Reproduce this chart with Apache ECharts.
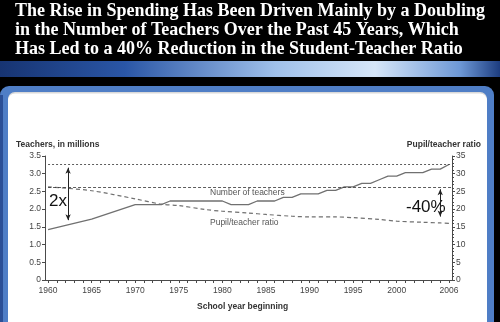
<!DOCTYPE html>
<html>
<head>
<meta charset="utf-8">
<script src="https://cdn.jsdelivr.net/npm/echarts@6/dist/echarts.min.js"></script>
<style>
  html, body { margin: 0; padding: 0; background: #000; }
  #chart { width: 500px; height: 322px; }
</style>
</head>
<body>
<div id="chart"></div>
<script>
// Teachers (millions) by school year
const teacherYears = [1960, 1965, 1970, 1971, 1972, 1973, 1974, 1975, 1976, 1977, 1978, 1979, 1980,
  1981, 1982, 1983, 1984, 1985, 1986, 1987, 1988, 1989, 1990, 1991, 1992, 1993, 1994, 1995,
  1996, 1997, 1998, 1999, 2000, 2001, 2002, 2003, 2004, 2005, 2006];
const teachersMillions = [1.42, 1.72, 2.13, 2.13, 2.13, 2.13, 2.23, 2.23, 2.23, 2.23, 2.23, 2.23, 2.23,
  2.13, 2.13, 2.13, 2.23, 2.23, 2.23, 2.33, 2.33, 2.43, 2.43, 2.43, 2.53, 2.53, 2.63, 2.63,
  2.73, 2.73, 2.83, 2.93, 2.93, 3.03, 3.03, 3.03, 3.13, 3.13, 3.26];

// Pupil/teacher ratio by school year
const ratioYears = [1960, 1965, 1970, 1973, 1975, 1978, 1980, 1983, 1985, 1988, 1990, 1993, 1995, 1998, 2000, 2003, 2005, 2006];
const pupilTeacherRatio = [26.3, 25.2, 22.9, 21.4, 21.0, 19.9, 19.4, 18.9, 18.5, 18.0, 17.8, 17.8, 17.6, 17.1, 16.6, 16.3, 16.1, 16.0];

// Axis labels
const xLabelYears = [1960, 1965, 1970, 1975, 1980, 1985, 1990, 1995, 2000, 2006];
const xTickYears = [];
for (let y = 1960; y <= 2006; y++) xTickYears.push(y);

// Annotation spans (data units)
const doublingArrow = { year: 1962.3, from: 3.17, to: 1.69 };
const reductionArrow = { year: 2005, from: 25.6, to: 17.9 };

const X_MIN = 1959.65, X_MAX = 2006.35;
const axisColor = '#4a4a4a';
const labelFont = 'Liberation Sans';

const chart = echarts.init(document.getElementById('chart'), null, { renderer: 'canvas' });

const bandGradient = new echarts.graphic.LinearGradient(0, 0, 1, 0, [
  { offset: 0, color: '#173472' },
  { offset: 0.25, color: '#2a56a6' },
  { offset: 0.55, color: '#9fc0ea' },
  { offset: 0.75, color: '#d6e6f8' },
  { offset: 0.92, color: '#6d98d6' },
  { offset: 1, color: '#1d3d80' }
]);

const lastTeacher = teachersMillions[teachersMillions.length - 1];
const firstRatio = pupilTeacherRatio[0];

chart.setOption({
  backgroundColor: '#000',
  animation: false,
  title: {
    text: 'The Rise in Spending Has Been Driven Mainly by a Doubling\nin the Number of Teachers Over the Past 45 Years, Which\nHas Led to a 40% Reduction in the Student-Teacher Ratio',
    left: 15,
    top: 0,
    padding: [2, 0, 0, 0],
    textStyle: {
      color: '#fff',
      fontFamily: 'Liberation Serif',
      fontWeight: 'bold',
      fontSize: 18,
      lineHeight: 19
    }
  },
  graphic: [
    { type: 'rect', z: -10, shape: { x: 0, y: 61, width: 500, height: 16 }, style: { fill: bandGradient } },
    { type: 'rect', z: -9, shape: { x: 0, y: 86, width: 494, height: 260, r: 9 }, style: { fill: '#4f7ec6' } },
    { type: 'rect', z: -9, shape: { x: 0, y: 95, width: 3, height: 240 }, style: { fill: '#2b4f96' } },
    { type: 'rect', z: -8, shape: { x: 8, y: 92, width: 479, height: 250, r: 7 }, style: { fill: '#d9d9d9' } },
    { type: 'rect', z: -7, shape: { x: 8, y: 93.5, width: 479, height: 250, r: 7 }, style: { fill: '#ffffff' } },
    {
      type: 'text', left: 16, top: 140,
      style: { text: 'Teachers, in millions', fill: '#333', font: 'bold 8.5px "Liberation Sans"' }
    },
    {
      type: 'text', right: 19, top: 140,
      style: { text: 'Pupil/teacher ratio', fill: '#333', font: 'bold 8.5px "Liberation Sans"' }
    },
    {
      type: 'text', left: 197, top: 302,
      style: { text: 'School year beginning', fill: '#333', font: 'bold 8.5px "Liberation Sans"' }
    },
    {
      type: 'text', left: 210, top: 188,
      style: { text: 'Number of teachers', fill: '#555', font: '8.5px "Liberation Sans"' }
    },
    {
      type: 'text', left: 210, top: 218,
      style: { text: 'Pupil/teacher ratio', fill: '#555', font: '8.5px "Liberation Sans"' }
    },
    {
      type: 'text', left: 49, top: 193,
      style: { text: '2x', fill: '#111', font: '17px "Liberation Sans"' }
    },
    {
      type: 'text', left: 406, top: 199,
      style: { text: '-40%', fill: '#111', font: '17px "Liberation Sans"' }
    }
  ],
  grid: { left: 45, right: 48, top: 156, bottom: 42 },
  xAxis: {
    type: 'value',
    min: X_MIN,
    max: X_MAX,
    splitLine: { show: false },
    axisLine: { show: true, lineStyle: { color: axisColor, width: 1 } },
    axisTick: { show: true, customValues: xTickYears, length: 3, lineStyle: { color: axisColor } },
    axisLabel: {
      customValues: xLabelYears,
      formatter: v => String(Math.round(v)),
      color: '#444', fontFamily: labelFont, fontSize: 8.5, margin: 6
    }
  },
  yAxis: [
    {
      type: 'value', min: 0, max: 3.5, interval: 0.5, position: 'left',
      splitLine: { show: false },
      axisLine: { show: true, lineStyle: { color: axisColor } },
      axisTick: { show: true, length: 3, lineStyle: { color: axisColor } },
      axisLabel: {
        color: '#444', fontFamily: labelFont, fontSize: 8.5, margin: 4,
        formatter: v => (v === 0 ? '0' : v.toFixed(1))
      }
    },
    {
      type: 'value', min: 0, max: 35, interval: 5, position: 'right',
      splitLine: { show: false },
      axisLine: { show: true, lineStyle: { color: axisColor } },
      axisTick: { show: true, length: 3, lineStyle: { color: axisColor } },
      minorTick: { show: true, splitNumber: 5, length: 2, lineStyle: { color: axisColor } },
      axisLabel: { color: '#444', fontFamily: labelFont, fontSize: 8.5, margin: 4 }
    }
  ],
  series: [
    {
      name: 'Number of teachers',
      type: 'line',
      yAxisIndex: 0,
      symbol: 'none',
      data: teacherYears.map((y, i) => [y, teachersMillions[i]]),
      lineStyle: { color: '#707070', width: 1.3 },
      markLine: {
        silent: true,
        symbol: 'none',
        label: { show: false },
        data: [
          [
            { coord: [1960, lastTeacher], lineStyle: { type: [2, 2], color: '#333', width: 0.8 } },
            { coord: [X_MAX, lastTeacher] }
          ],
          [
            { coord: [doublingArrow.year, doublingArrow.from], symbol: 'arrow', symbolSize: [4, 6],
              lineStyle: { type: 'solid', color: '#222', width: 1 } },
            { coord: [doublingArrow.year, doublingArrow.to], symbol: 'arrow', symbolSize: [4, 6] }
          ]
        ]
      }
    },
    {
      name: 'Pupil/teacher ratio',
      type: 'line',
      yAxisIndex: 1,
      symbol: 'none',
      smooth: 0.3,
      data: ratioYears.map((y, i) => [y, pupilTeacherRatio[i]]),
      lineStyle: { color: '#707070', width: 1.2, type: [4, 3] },
      markLine: {
        silent: true,
        symbol: 'none',
        label: { show: false },
        data: [
          [
            { coord: [1960, firstRatio], lineStyle: { type: [3, 2], color: '#333', width: 0.8 } },
            { coord: [X_MAX, firstRatio] }
          ],
          [
            { coord: [reductionArrow.year, reductionArrow.from], symbol: 'arrow', symbolSize: [4, 6],
              lineStyle: { type: 'solid', color: '#222', width: 1 } },
            { coord: [reductionArrow.year, reductionArrow.to], symbol: 'arrow', symbolSize: [4, 6] }
          ]
        ]
      }
    }
  ]
});
</script>
</body>
</html>
